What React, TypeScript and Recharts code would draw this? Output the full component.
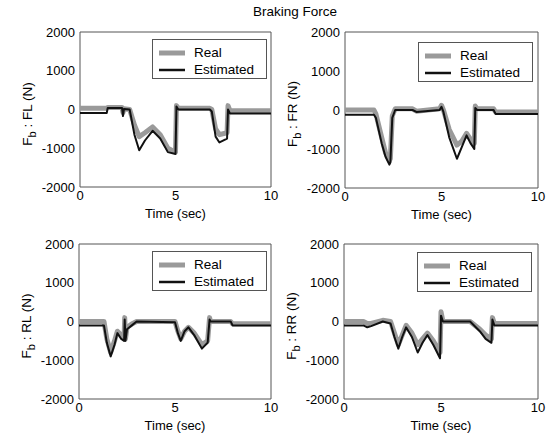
import React from "react";
import { Legend, Line, LineChart, ReferenceArea, XAxis, YAxis } from "recharts";

// front left
const flTime = [0, 1.4, 1.45, 2.2, 2.25, 2.3, 2.6, 2.85, 3.1, 3.4, 3.8, 4.2, 4.6, 5.0, 5.05, 5.15, 6.8, 6.9, 7.1, 7.3, 7.7, 7.75, 7.85, 10];
const flReal = [30, 30, 50, 50, -80, 20, 0, -400, -700, -600, -450, -650, -1000, -1100, 100, 30, 30, 0, -500, -650, -600, 100, -30, -30];
const flEst = [-90, -90, 40, 40, -170, 10, 0, -650, -1050, -800, -550, -750, -1100, -1150, 80, 0, 0, -50, -700, -850, -750, 0, -100, -100];

// front right
const frTime = [0, 1.5, 1.6, 1.9, 2.1, 2.3, 2.35, 2.45, 2.6, 3.5, 3.7, 4.9, 5.0, 5.1, 5.4, 5.8, 6.05, 6.3, 6.5, 6.7, 6.75, 6.85, 7.7, 7.8, 10];
const frReal = [0, 0, -100, -700, -1100, -1300, -1250, -150, 30, 30, -30, 30, 120, 0, -500, -900, -800, -600, -750, -850, 100, 30, 30, -50, -50];
const frEst = [-120, -120, -200, -850, -1200, -1400, -1350, -200, 0, 0, -50, 0, 80, -50, -700, -1250, -950, -650, -850, -1000, 50, 0, 0, -100, -100];

// rear left
const rlTime = [0, 1.3, 1.45, 1.65, 1.85, 2.0, 2.2, 2.35, 2.38, 2.42, 2.5, 2.8, 3.0, 5.0, 5.15, 5.3, 5.5, 5.7, 6.0, 6.4, 6.7, 6.8, 6.85, 7.9, 8.0, 10];
const rlReal = [0, 0, -450, -800, -500, -250, -350, -400, 100, -450, -150, -50, 0, 0, -250, -450, -250, -150, -300, -600, -500, 100, 0, 0, -60, -60];
const rlEst = [-100, -100, -550, -900, -600, -300, -450, -500, 50, -500, -200, -80, 0, -20, -300, -500, -250, -150, -350, -700, -550, 50, 0, 0, -100, -100];

// rear right
const rrTime = [0, 1.0, 1.2, 1.4, 2.0, 2.4, 2.6, 2.8, 3.0, 3.2, 3.5, 3.8, 4.05, 4.3, 4.6, 4.95, 5.0, 5.1, 6.5, 7.0, 7.3, 7.6, 7.65, 7.75, 10];
const rrReal = [0, 0, -50, -50, 30, 0, -300, -600, -350, -100, -300, -600, -450, -300, -500, -800, 250, 0, 0, -200, -350, -450, 100, -50, -50];
const rrEst = [-100, -100, -150, -120, 0, -50, -400, -700, -400, -150, -400, -800, -550, -350, -600, -950, 150, 0, 0, -250, -450, -550, 50, -100, -100];

const xTicks = [0, 5, 10];
const yTicks = [-2000, -1000, 0, 1000, 2000];
const seriesNames = ["Real", "Estimated"];

const FONT = "Arial, 'Liberation Sans', Helvetica, sans-serif";
const REAL_COLOR = "#9a9a9a";
const EST_COLOR = "#111111";
const BOX_COLOR = "#555555";

type Box = { x: number; y: number; w: number; h: number };

const Y_AXIS_W = 80;
const TOP_PAD = 12;
const RIGHT_PAD = 10;
const X_AXIS_H = 45;

function LegendBox() {
  return (
    <div
      style={{
        width: 113,
        height: 38,
        border: `1px solid ${BOX_COLOR}`,
        background: "#fff",
        position: "relative",
        fontFamily: FONT,
        fontSize: 13.5,
        color: "#000",
      }}
    >
      {seriesNames.map((name, i) => (
        <div key={name} style={{ position: "absolute", left: 6, top: 4 + i * 17, height: 17, display: "flex", alignItems: "center" }}>
          <svg width={26} height={8} style={{ display: "block" }}>
            <line
              x1={0}
              x2={26}
              y1={4}
              y2={4}
              stroke={i === 0 ? REAL_COLOR : EST_COLOR}
              strokeWidth={i === 0 ? 5 : 2.5}
            />
          </svg>
          <span style={{ marginLeft: 9, lineHeight: "17px", whiteSpace: "nowrap" }}>{name}</span>
        </div>
      ))}
    </div>
  );
}

function Panel({
  wheel,
  time,
  real,
  est,
  box,
  legendAt,
}: {
  wheel: string;
  time: number[];
  real: number[];
  est: number[];
  box: Box;
  legendAt: [number, number];
}) {
  const data = time.map((t, i) => ({ t, real: real[i], est: est[i] }));
  const left = box.x - Y_AXIS_W;
  const top = box.y - TOP_PAD;
  const width = box.w + Y_AXIS_W + RIGHT_PAD;
  const height = box.h + TOP_PAD + X_AXIS_H;
  const tickStyle = { fontSize: 13, fill: "#000", fontFamily: FONT };
  const labelStyle = { position: "absolute" as const, fontFamily: FONT, fontSize: 13, color: "#000", whiteSpace: "nowrap" as const, textAlign: "center" as const };

  return (
    <>
      <div style={{ position: "absolute", left, top }}>
        <LineChart width={width} height={height} data={data} margin={{ top: TOP_PAD, right: RIGHT_PAD, bottom: 0, left: 0 }}>
          <XAxis
            dataKey="t"
            type="number"
            domain={[0, 10]}
            ticks={xTicks}
            tickSize={0}
            tickMargin={4}
            axisLine={false}
            tick={tickStyle}
            height={X_AXIS_H}
            allowDataOverflow
          />
          <YAxis
            type="number"
            domain={[-2000, 2000]}
            ticks={yTicks}
            tickSize={0}
            tickMargin={5}
            axisLine={false}
            tick={tickStyle}
            width={Y_AXIS_W}
            allowDataOverflow
          />
          <ReferenceArea x1={0} x2={10} y1={-2000} y2={2000} fill="none" stroke={BOX_COLOR} strokeWidth={1} />
          <Line
            dataKey="real"
            name="Real"
            type="linear"
            stroke={REAL_COLOR}
            strokeWidth={5}
            dot={false}
            strokeLinejoin="round"
            isAnimationActive={false}
          />
          <Line
            dataKey="est"
            name="Estimated"
            type="linear"
            stroke={EST_COLOR}
            strokeWidth={2}
            dot={false}
            strokeLinejoin="round"
            isAnimationActive={false}
          />
          <Legend
            layout="horizontal"
            verticalAlign="middle"
            align="center"
            content={() => <LegendBox />}
            wrapperStyle={{ left: legendAt[0] - left, top: legendAt[1] - top, width: "auto", height: "auto" }}
          />
        </LineChart>
      </div>
      {/* x axis title */}
      <div style={{ ...labelStyle, left: box.x + box.w / 2 - 60, width: 120, top: box.y + box.h + 19, lineHeight: "16px" }}>
        Time (sec)
      </div>
      {/* y axis title, rotated */}
      <div
        style={{
          ...labelStyle,
          fontSize: 13.5,
          left: box.x - 52 - 60,
          top: box.y + box.h / 2 + 4 - 9,
          width: 120,
          height: 18,
          lineHeight: "18px",
          transform: "rotate(-90deg)",
        }}
      >
        F<sub style={{ fontSize: 11, verticalAlign: "-4px", lineHeight: 0 }}>b</sub> : {wheel} (N)
      </div>
    </>
  );
}

export default function App() {
  return (
    <div style={{ position: "absolute", left: 0, top: 0, width: 558, height: 440, background: "#fff" }}>
      <div
        style={{
          position: "absolute",
          left: 195,
          top: 3,
          width: 200,
          textAlign: "center",
          fontFamily: FONT,
          fontSize: 13.5,
          lineHeight: "17px",
          color: "#000",
        }}
      >
        Braking Force
      </div>
      <Panel wheel="FL" time={flTime} real={flReal} est={flEst} box={{ x: 80, y: 32, w: 191, h: 155 }} legendAt={[152, 39]} />
      <Panel wheel="FR" time={frTime} real={frReal} est={frEst} box={{ x: 345, y: 32, w: 193, h: 156 }} legendAt={[418, 42]} />
      <Panel wheel="RL" time={rlTime} real={rlReal} est={rlEst} box={{ x: 79, y: 244, w: 192, h: 155 }} legendAt={[152, 251]} />
      <Panel wheel="RR" time={rrTime} real={rrReal} est={rrEst} box={{ x: 344, y: 244, w: 194, h: 155 }} legendAt={[417, 252]} />
    </div>
  );
}
